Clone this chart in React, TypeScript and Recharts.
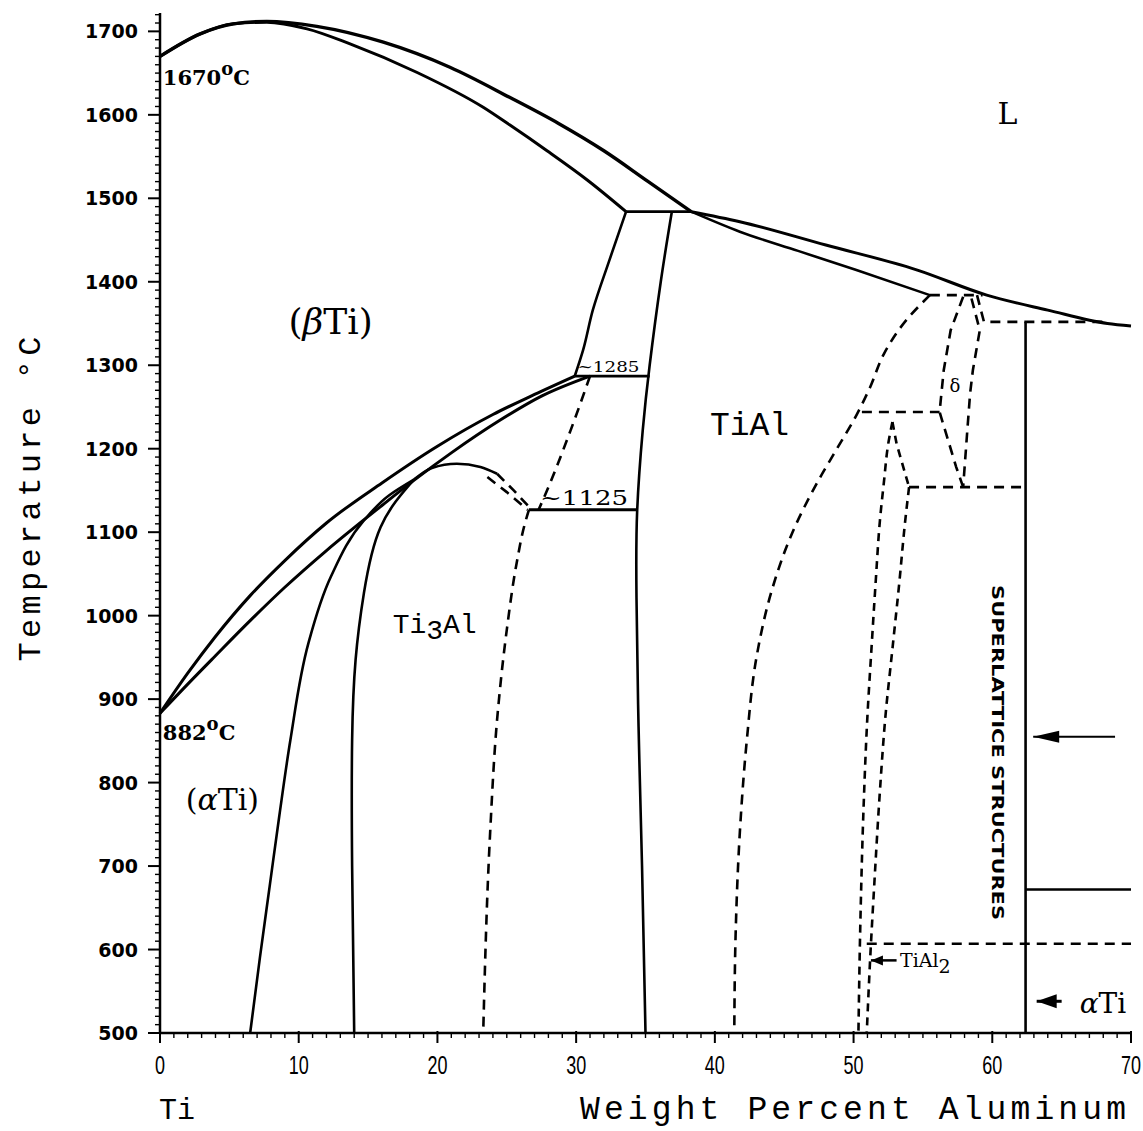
import React from "react";
import {
  ComposedChart,
  Line,
  Scatter,
  XAxis,
  YAxis,
  ReferenceDot,
  Label,
} from "recharts";

// [wt% Al, temperature °C]
const liquidusLeft = [[0, 1670], [2.9, 1697], [5.3, 1709], [7.7, 1712], [11.3, 1706], [16.1, 1687], [20.9, 1657], [25.2, 1621], [28.7, 1590], [32, 1557], [35.2, 1520], [38.3, 1484]];
const solidusBeta = [[0, 1670], [2.9, 1697], [5.3, 1709], [7.7, 1711], [10.6, 1703], [13.7, 1685], [18.5, 1651], [23.3, 1609], [25.2, 1588], [27.9, 1557], [30.8, 1522], [33.6, 1484]];
const peritectic = [[33.6, 1484], [38.3, 1484]];
const liquidusRight = [[38.3, 1484], [41.8, 1472], [48, 1444], [54.6, 1414], [59.6, 1384], [64, 1366], [68.3, 1350], [70, 1347]];
const solidusGamma = [[38.3, 1484], [41.8, 1460], [46, 1437], [50.2, 1414], [55.5, 1384]];
const betaTransus = [[33.6, 1484], [32.4, 1426], [31.2, 1366], [30.5, 1318], [29.9, 1287]];
const iso1285 = [[29.9, 1287], [35.3, 1287]];
const gammaLeft = [[36.9, 1484], [36.1, 1400], [35.3, 1300], [34.8, 1222], [34.4, 1126], [34.35, 1022], [34.5, 867], [34.75, 700], [35, 500]];
const alphaBetaOuter = [[0, 883], [2, 931], [4, 975], [6.5, 1024], [9, 1066], [12, 1111], [16, 1159], [20, 1203], [24, 1241], [27, 1265], [29.9, 1287]];
const alphaBetaInner = [[0, 883], [2, 918], [4, 952], [6.5, 994], [9, 1034], [12, 1078], [16, 1132], [18.3, 1162], [21, 1195], [24.5, 1234], [27.5, 1263], [31, 1287]];
const alpha2SolvusA = [[18.3, 1163], [16.5, 1144], [14.7, 1114], [12.3, 1046], [10.7, 967], [9.4, 851], [8.6, 760], [7.9, 675], [7.2, 590], [6.5, 500]];
const alpha2SolvusB = [[18.3, 1163], [15.9, 1106], [14.7, 1027], [14.1, 947], [13.85, 851], [13.85, 700], [14, 500]];
const domeTop = [[18.3, 1163], [19.6, 1177], [21.4, 1182], [23.1, 1178], [24.3, 1170]];
const domeDashA = [[24.3, 1170], [25.5, 1150], [26.8, 1127]];
const domeDashB = [[23.6, 1166], [25.0, 1148], [26.5, 1127]];
const iso1125 = [[26.6, 1127], [34.4, 1127]];
const dashUpper = [[31.0, 1287], [29.6, 1222], [27.9, 1150], [27.3, 1127]];
const dashLower = [[26.6, 1127], [26.3, 1110], [25.7, 1062], [25, 983], [24.3, 875], [23.8, 740], [23.3, 500]];
const gammaRight = [[55.5, 1384], [53.8, 1354], [52.2, 1314], [51.2, 1274], [50.2, 1240], [48.8, 1200], [47.4, 1160], [45.6, 1100], [44.1, 1030], [43, 950], [42.3, 850], [41.8, 740], [41.5, 620], [41.4, 500]];
const dash1384 = [[55.5, 1384], [59.3, 1384]];
const dashStep1352 = [[58.9, 1384], [59.4, 1352], [68.3, 1352]];
const superVertical = [[62.4, 1352], [62.4, 500]];
const dash1244 = [[50.6, 1244], [56.2, 1244]];
const deltaLeft = [[57.9, 1382], [57, 1342], [56.5, 1294], [56.2, 1244], [57.4, 1178], [57.9, 1154]];
const deltaRight = [[58.5, 1380], [59.1, 1342], [58.6, 1294], [58.4, 1266], [58.2, 1222], [57.9, 1154]];
const dash1154 = [[54, 1154], [62.4, 1154]];
const tial2Left = [[52.8, 1232], [52.5, 1206], [52.2, 1162], [51.9, 1114], [51.6, 1042], [51.3, 963], [51.0, 880], [50.7, 760], [50.5, 640], [50.35, 500]];
const tial2RightTop = [[52.8, 1232], [53.1, 1206], [54, 1154]];
const tial2RightLow = [[54, 1154], [53.7, 1110], [53.3, 1040], [52.8, 960], [52.3, 880], [51.9, 790], [51.5, 680], [51.2, 590], [50.95, 500]];
const dash607 = [[50.95, 607], [70, 607]];
const solid672 = [[62.4, 672], [70, 672]];
const arrow855 = [[62.95, 855], [68.85, 855]];
const arrowAlphaTi = [[63.2, 538], [65.0, 538]];
const arrowTiAl2 = [[51.25, 587], [53.1, 587]];

const xTicks = [0, 10, 20, 30, 40, 50, 60, 70];
const yTicks = [500, 600, 700, 800, 900, 1000, 1100, 1200, 1300, 1400, 1500, 1600, 1700];

const xMinor: number[] = [];
for (let i = 0; i <= 70; i++) xMinor.push(i);
const yMinor: number[] = [];
for (let v = 500; v <= 1720; v += 10) yMinor.push(v);

const pts = (a: number[][]) => a.map(([x, t]) => ({ x, t }));

const INK = "#000";
const SW = 2.6;
const DASH = "10 7";

const XTick = (props: any) => {
  const { x, y, payload } = props;
  const major = xTicks.includes(payload.value);
  return (
    <g>
      <line x1={x} x2={x} y1={y - (major ? 2 : 0)} y2={y + (major ? 10 : 5)} stroke={INK} strokeWidth={major ? 2 : 1.4} />
      {major && (
        <text x={x} y={y + 41} textAnchor="middle" fontFamily="Liberation Sans, Arial, sans-serif" fontSize={25} transform={`translate(${x},0) scale(0.72,1) translate(${-x},0)`} fill={INK}>
          {payload.value}
        </text>
      )}
    </g>
  );
};

const YTick = (props: any) => {
  const { x, y, payload } = props;
  const major = yTicks.includes(payload.value);
  return (
    <g>
      <line x1={x - (major ? 12 : 5)} x2={x} y1={y} y2={y} stroke={INK} strokeWidth={major ? 2 : 1.4} />
      {major && (
        <text x={x - 22} y={y + 7} textAnchor="end" fontFamily="DejaVu Sans, sans-serif" fontWeight="bold" fontSize={19} fill={INK}>
          {payload.value}
        </text>
      )}
    </g>
  );
};

const arrowHead = (len: number, half: number) => (p: any) => (
  <polygon points={`${p.cx},${p.cy} ${p.cx + len},${p.cy - half} ${p.cx + len},${p.cy + half}`} fill={INK} />
);

const note = (x: number, t: number, el: (cx: number, cy: number) => React.ReactElement) => (
  <ReferenceDot x={x} y={t} r={0} shape={(p: any) => el(p.cx, p.cy)} />
);

const serif = "DejaVu Serif, Liberation Serif, serif";
const mono = "Liberation Mono, DejaVu Sans Mono, monospace";

export default function App() {
  const solid = (d: number[][], type: any = "linear", w = SW) => (
    <Line data={pts(d)} dataKey="t" type={type} stroke={INK} strokeWidth={w} dot={false} isAnimationActive={false} />
  );
  const dashed = (d: number[][], type: any = "linear", dash = DASH) => (
    <Line data={pts(d)} dataKey="t" type={type} stroke={INK} strokeWidth={SW} strokeDasharray={dash} dot={false} isAnimationActive={false} />
  );

  return (
    <div style={{ background: "#fff", width: 1143, height: 1131 }}>
      <style>{"body{margin:0}"}</style>
      <ComposedChart width={1143} height={1131} margin={{ top: 13, right: 12, bottom: 0, left: 0 }}>
        <XAxis
          dataKey="x"
          type="number"
          domain={[0, 70]}
          ticks={xMinor}
          interval={0}
          tick={<XTick />}
          tickLine={false}
          tickSize={0}
          tickMargin={0}
          axisLine={{ stroke: INK, strokeWidth: 2.5 }}
          height={98}
        >
          <Label
            content={(p: any) => {
              const vb = p.viewBox;
              return (
                <g>
                  <text x={vb.x + 17} y={vb.y + 86} textAnchor="middle" fontFamily={mono} fontSize={30} fill={INK}>Ti</text>
                  <text x={vb.x + 420} y={vb.y + 86} fontFamily={mono} fontSize={33} textLength={546} lengthAdjust="spacing" fill={INK}>
                    Weight Percent Aluminum
                  </text>
                </g>
              );
            }}
          />
        </XAxis>
        <YAxis
          type="number"
          domain={[500, 1722]}
          ticks={yMinor}
          interval={0}
          tick={<YTick />}
          tickLine={false}
          tickSize={0}
          tickMargin={0}
          axisLine={{ stroke: INK, strokeWidth: 2.5 }}
          width={160}
        >
          <Label
            content={() => (
              <text x={40} y={499} transform="rotate(-90 40 499)" textAnchor="middle" fontFamily={mono} fontSize={32} textLength={325} lengthAdjust="spacing" fill={INK}>
                Temperature °C
              </text>
            )}
          />
        </YAxis>

        {solid(liquidusLeft, "monotoneX", 3.4)}
        {solid(solidusBeta, "monotoneX", 3)}
        {solid(peritectic)}
        {solid(liquidusRight, "monotoneX", 3)}
        {solid(solidusGamma, "monotoneX")}
        {solid(betaTransus, "monotoneY")}
        {solid(iso1285)}
        {solid(gammaLeft, "natural")}
        {solid(alphaBetaOuter, "monotoneX", 3)}
        {solid(alphaBetaInner, "monotoneX", 3)}
        {solid(alpha2SolvusA, "monotoneY")}
        {solid(alpha2SolvusB, "natural")}
        {solid(domeTop, "monotoneX")}
        {dashed(domeDashA)}
        {dashed(domeDashB)}
        {solid(iso1125, "linear", 3)}
        {dashed(dashUpper, "monotoneY")}
        {dashed(dashLower, "monotoneY")}
        {dashed(gammaRight, "monotoneY")}
        {dashed(dash1384)}
        {dashed(dashStep1352)}
        {solid(superVertical)}
        {dashed(dash1244)}
        {dashed(deltaLeft)}
        {dashed(deltaRight)}
        {dashed(dash1154)}
        {dashed(tial2Left, "monotoneY", "8 6")}
        {dashed(tial2RightTop, "linear", "8 6")}
        {dashed(tial2RightLow, "monotoneY", "8 6")}
        {dashed(dash607)}
        {solid(solid672)}
        {solid(arrow855, "linear", 2)}
        {solid(arrowAlphaTi, "linear", 3)}
        {solid(arrowTiAl2, "linear", 2.5)}

        <Scatter data={pts([arrow855[0]])} dataKey="t" shape={arrowHead(26, 6)} isAnimationActive={false} />
        <Scatter data={pts([arrowAlphaTi[0]])} dataKey="t" shape={arrowHead(20, 7)} isAnimationActive={false} />
        <Scatter data={pts([arrowTiAl2[0]])} dataKey="t" shape={arrowHead(12, 5)} isAnimationActive={false} />

        {note(0.2, 1636, (cx, cy) => (
          <text x={cx} y={cy} fontFamily={serif} fontWeight="bold" fontSize={21} fill={INK}>
            1670<tspan dy={-10} fontSize={18}>o</tspan><tspan dy={10}>C</tspan>
          </text>
        ))}
        {note(0.2, 851, (cx, cy) => (
          <text x={cx} y={cy} fontFamily={serif} fontWeight="bold" fontSize={21} fill={INK}>
            882<tspan dy={-10} fontSize={18}>o</tspan><tspan dy={10}>C</tspan>
          </text>
        ))}
        {note(61.1, 1589, (cx, cy) => (
          <text x={cx} y={cy} textAnchor="middle" fontFamily={serif} fontSize={30} fill={INK}>L</text>
        ))}
        {note(12.3, 1338, (cx, cy) => (
          <text x={cx} y={cy} textAnchor="middle" fontFamily={serif} fontSize={36} fill={INK}>
            (<tspan fontStyle="italic">β</tspan>Ti)
          </text>
        ))}
        {note(4.5, 767, (cx, cy) => (
          <text x={cx} y={cy} textAnchor="middle" fontFamily={serif} fontSize={30} fill={INK}>
            (<tspan fontStyle="italic">α</tspan>Ti)
          </text>
        ))}
        {note(42.5, 1217, (cx, cy) => (
          <text x={cx} y={cy} textAnchor="middle" fontFamily={mono} fontSize={33} fill={INK}>TiAl</text>
        ))}
        {note(19.8, 979, (cx, cy) => (
          <text x={cx} y={cy} textAnchor="middle" fontFamily={mono} fontSize={28} fill={INK}>
            Ti<tspan dy={6}>3</tspan><tspan dy={-6}>Al</tspan>
          </text>
        ))}
        {note(30.1, 1292, (cx, cy) => (
          <text x={cx} y={cy} fontFamily={serif} fontSize={15} textLength={62} lengthAdjust="spacingAndGlyphs" fill={INK}>~1285</text>
        ))}
        {note(27.4, 1132, (cx, cy) => (
          <text x={cx} y={cy} fontFamily={serif} fontSize={20} textLength={88} lengthAdjust="spacingAndGlyphs" fill={INK}>~1125</text>
        ))}
        {note(57.3, 1268, (cx, cy) => (
          <text x={cx} y={cy} textAnchor="middle" fontFamily={serif} fontSize={18} fill={INK}>δ</text>
        ))}
        {note(53.35, 579, (cx, cy) => (
          <text x={cx} y={cy} fontFamily={serif} fontSize={19} fill={INK}>
            TiAl<tspan dy={6}>2</tspan>
          </text>
        ))}
        {note(66.3, 524, (cx, cy) => (
          <text x={cx} y={cy} fontFamily={serif} fontSize={28} fill={INK}>
            <tspan fontStyle="italic">α</tspan>Ti
          </text>
        ))}
        {note(60.35, 836, (cx, cy) => (
          <text x={cx} y={cy} transform={`rotate(90 ${cx} ${cy})`} textAnchor="middle" dominantBaseline="central" fontFamily="DejaVu Sans, sans-serif" fontWeight="bold" fontSize={16} textLength={335} lengthAdjust="spacingAndGlyphs" fill={INK}>
            SUPERLATTICE STRUCTURES
          </text>
        ))}
      </ComposedChart>
    </div>
  );
}
